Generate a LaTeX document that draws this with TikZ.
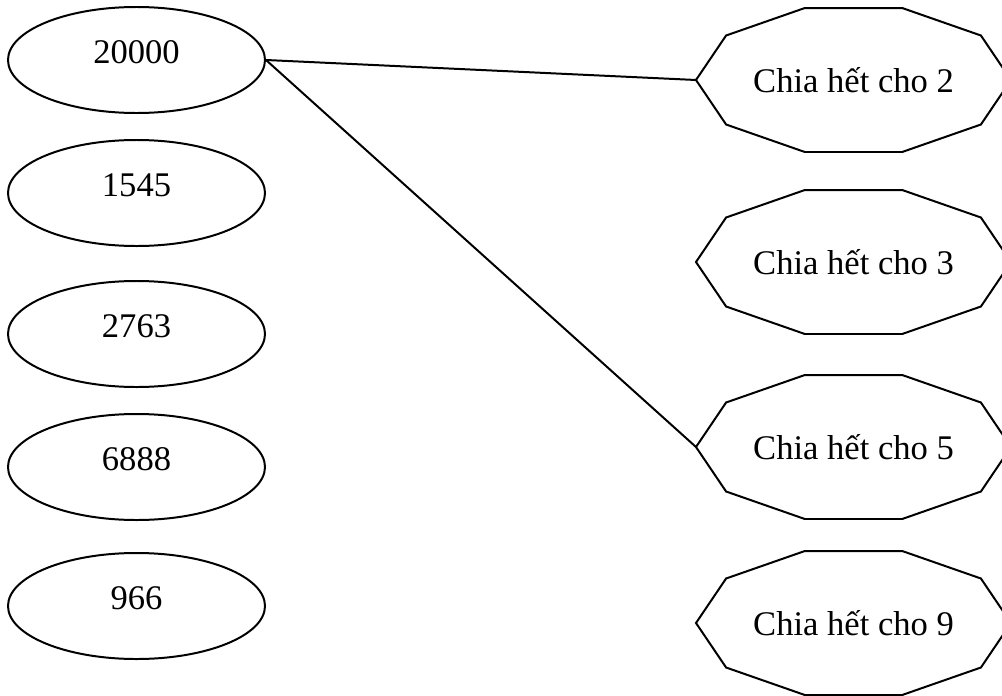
\documentclass[tikz,border=0pt]{standalone}
\usepackage{fontspec}
\setmainfont{Liberation Serif}
\usetikzlibrary{shapes.geometric,calc}

\begin{document}
\begin{tikzpicture}[x=0.03cm,y=-0.03cm,line width=1.7pt,
		numnode/.style={draw,ellipse,minimum width=7.71cm,minimum height=3.18cm,inner sep=0pt,text depth=0.45cm,font=\fontsize{29.5}{35}\selectfont},
		divnode/.style={inner sep=0pt,font=\fontsize{29.5}{35}\selectfont}]
		
		\clip (0,0) rectangle (1002,696);
		
		% numbers on the left
		\node[numnode] (n1) at (136.5,60) {20000};
		\node[numnode] (n2) at (136.5,193) {1545};
		\node[numnode] (n3) at (136.5,334) {2763};
		\node[numnode] (n4) at (136.5,467) {6888};
		\node[numnode] (n5) at (136.5,606) {966};
		
		% divisibility boxes on the right
		\node[divnode] (d1) at (853.5,80) {Chia hết cho 2};
		\node[divnode] (d2) at (853.5,262) {Chia hết cho 3};
		\node[divnode] (d3) at (853.5,447) {Chia hết cho 5};
		\node[divnode] (d4) at (853.5,623) {Chia hết cho 9};
		
		\foreach \d in {d1,d2,d3,d4}{
			\draw[shift={(\d.center)}] (0:157.5 and 75.7)
				\foreach \a in {36,72,...,324}{ -- (\a:157.5 and 75.7)} -- cycle;
			\coordinate (\d w) at ($(\d.center)+(-157.5,0)$);
		}
		
		\draw (n1.east) -- (d1w);
		\draw (n1.east) -- (d3w);
		
\end{tikzpicture}
\end{document}
